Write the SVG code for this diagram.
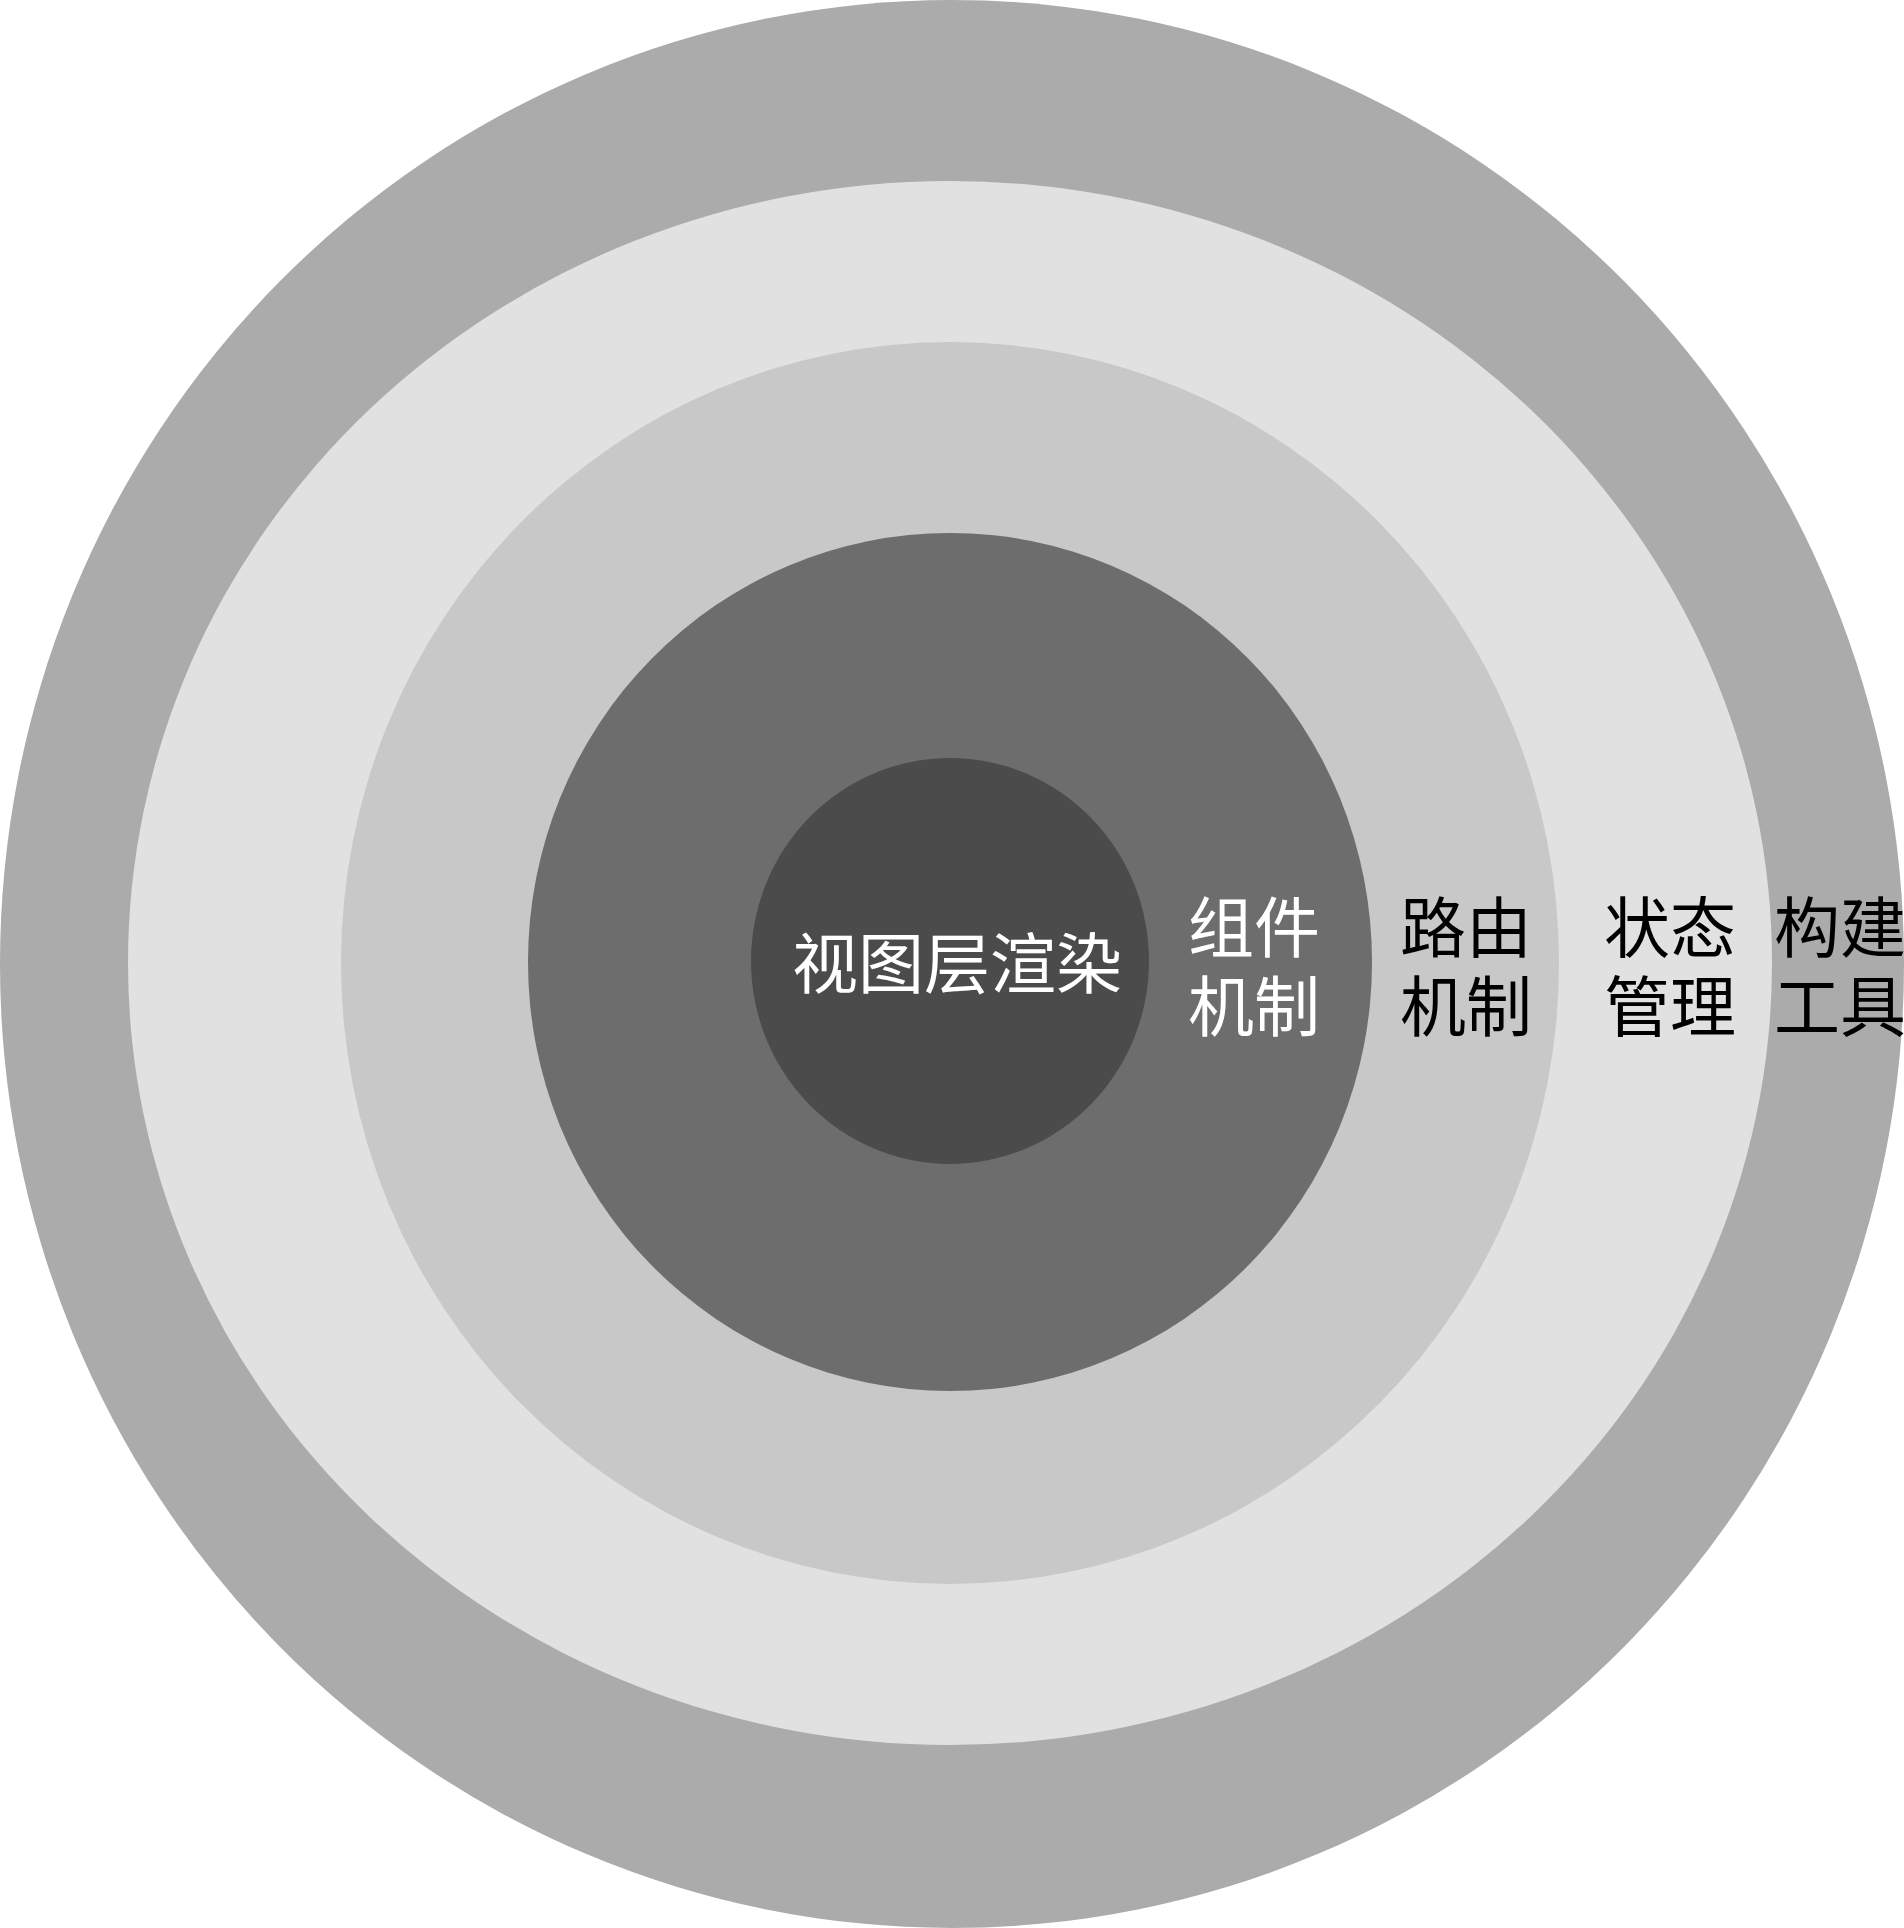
<svg xmlns="http://www.w3.org/2000/svg" width="1904" height="1928" viewBox="0 0 1904 1928">
<style>
.t{font-family:"Liberation Serif","Noto Sans CJK SC",serif;font-size:66px;text-anchor:middle;dominant-baseline:central}
.w{fill:#ffffff}
.b{fill:#000000}
</style>
<rect width="1904" height="1928" fill="#ffffff"/>
<g id="ring-build">
<ellipse cx="952" cy="964" rx="952" ry="964" fill="#ababab"/>
</g>
<g id="ring-state">
<ellipse cx="950" cy="963" rx="822" ry="782" fill="#e1e1e1"/>
</g>
<g id="ring-router">
<ellipse cx="950" cy="963" rx="609" ry="621" fill="#c8c8c8"/>
</g>
<g id="ring-component">
<ellipse cx="950" cy="962" rx="422" ry="429" fill="#6d6d6d"/>
</g>
<g id="core-view">
<ellipse cx="950" cy="961" rx="199" ry="203" fill="#4b4b4b"/>
<text class="t w" x="957" y="965">视图层渲染</text>
</g>
<g id="labels">
<text class="t w" x="1254" y="929">组件</text>
<text class="t w" x="1254" y="1008">机制</text>
<text class="t b" x="1466" y="929">路由</text>
<text class="t b" x="1466" y="1008">机制</text>
<text class="t b" x="1670" y="929">状态</text>
<text class="t b" x="1670" y="1008">管理</text>
<text class="t b" x="1840" y="929">构建</text>
<text class="t b" x="1840" y="1008">工具</text>
</g>
<g id="connectors"></g>
</svg>
